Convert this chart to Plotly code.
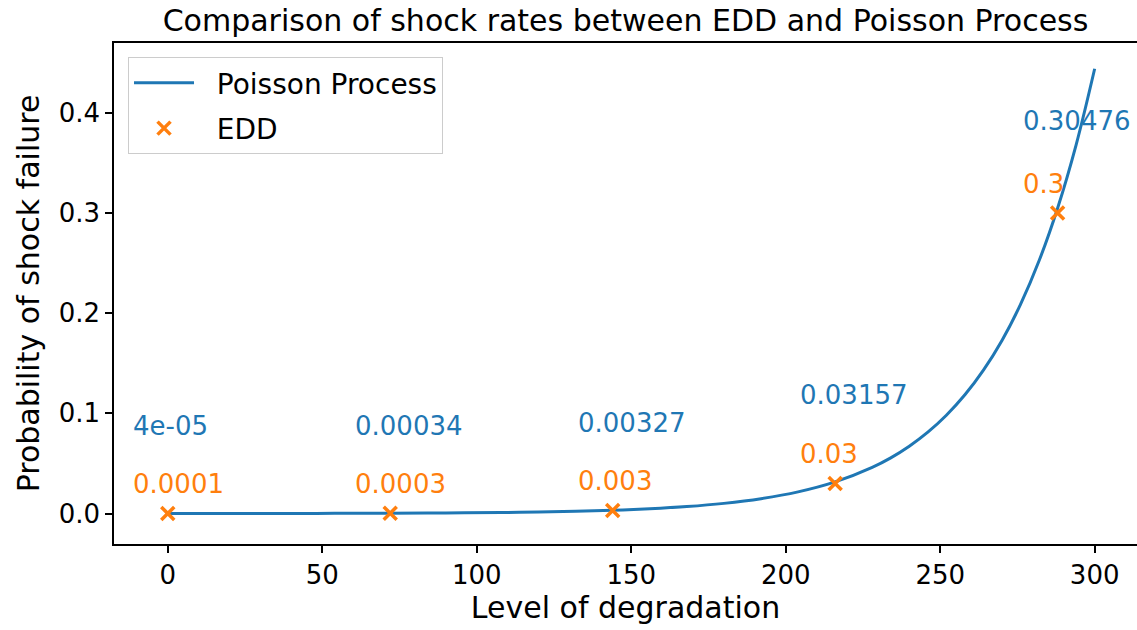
import plotly.graph_objects as go

# Poisson process curve: probability of shock failure vs. level of degradation
poisson_x = [0, 12, 24, 36, 48, 60, 72, 84, 96, 108, 120, 132, 144, 156, 168,
             180, 192, 204, 216, 228, 234, 240, 246, 252, 258, 264, 270, 276,
             282, 288, 294, 300]
poisson_y = [0.00004, 0.000051, 0.000075, 0.000109, 0.000159, 0.000232, 0.00034,
             0.000494, 0.000721, 0.00105, 0.00154, 0.00224, 0.00327, 0.00477,
             0.00696, 0.01015, 0.0148, 0.0216, 0.03157, 0.0461, 0.0556, 0.0672,
             0.0812, 0.0981, 0.1185, 0.1431, 0.1728, 0.2087, 0.2522, 0.30476,
             0.368, 0.4439]

# EDD points
edd_x = [0, 72, 144, 216, 288]
edd_y = [0.0001, 0.0003, 0.003, 0.03, 0.3]
# Poisson values at the EDD levels
poisson_at_edd = [0.00004, 0.00034, 0.00327, 0.03157, 0.30476]

x_ticks = [0, 50, 100, 150, 200, 250, 300]
y_ticks = [0.0, 0.1, 0.2, 0.3, 0.4]

BLUE = "#1f77b4"
ORANGE = "#ff7f0e"
FONT = "DejaVu Sans"
FS = 26        # tick labels and value labels
FS_LABEL = 30  # title and axis titles
FS_LEGEND = 28
PAD = "\u00a0\u00a0"  # gap between legend handle and its label

fig = go.Figure()
fig.add_trace(go.Scatter(
    x=poisson_x, y=poisson_y, mode="lines", name=PAD + "Poisson Process",
    line=dict(color=BLUE, width=3, shape="spline", smoothing=1.0),
    legendgroup="a",
))
fig.add_trace(go.Scatter(
    x=edd_x, y=edd_y, mode="markers", name=PAD + "EDD",
    marker=dict(symbol="x-thin", size=13, color=ORANGE,
                line=dict(color=ORANGE, width=3.5)),
    legendgroup="b",
))

annotations = []
for xv, pv, ev in zip(edd_x, poisson_at_edd, edd_y):
    annotations.append(dict(
        x=xv - 12, y=pv + 0.087, xref="x", yref="y", text=str(pv),
        showarrow=False, xanchor="left", yanchor="middle",
        font=dict(family=FONT, size=FS, color=BLUE),
    ))
    annotations.append(dict(
        x=xv - 12, y=ev + 0.029, xref="x", yref="y", text=str(ev),
        showarrow=False, xanchor="left", yanchor="middle",
        font=dict(family=FONT, size=FS, color=ORANGE),
    ))

axis_common = dict(
    showline=True, linecolor="#000000", linewidth=1.6,
    ticks="outside", ticklen=7, tickwidth=1.5, tickcolor="#000000",
    showgrid=False, zeroline=False,
    tickfont=dict(family=FONT, size=FS, color="#000000"),
)

fig.update_layout(
    width=1137, height=630,
    margin=dict(l=114, r=0, t=43, b=86, autoexpand=False),
    paper_bgcolor="white", plot_bgcolor="white",
    font=dict(family=FONT, size=FS, color="#000000"),
    title=dict(
        text="Comparison of shock rates between EDD and Poisson Process",
        x=0.5, xref="paper", y=1 - 20 / 630, yanchor="middle",
        font=dict(family=FONT, size=FS_LABEL, color="#000000"),
    ),
    xaxis=dict(
        range=[-17.4, 313.7], tickvals=x_ticks, mirror=True,
        title=dict(text="Level of degradation", standoff=8,
                   font=dict(family=FONT, size=FS_LABEL, color="#000000")),
        **axis_common,
    ),
    yaxis=dict(
        range=[-0.0304, 0.4696], tickvals=y_ticks, tickformat=".1f",
        mirror=False,
        title=dict(text="Probability of shock failure", standoff=10,
                   font=dict(family=FONT, size=FS_LABEL, color="#000000")),
        **axis_common,
    ),
    legend=dict(
        x=0.0137, y=0.972, xanchor="left", yanchor="top",
        bgcolor="rgba(255,255,255,0.8)", bordercolor="#cccccc", borderwidth=1,
        font=dict(family=FONT, size=FS_LEGEND, color="#000000"),
        tracegroupgap=6, itemwidth=60,
    ),
    annotations=annotations,
)

fig.write_html("out.html")
